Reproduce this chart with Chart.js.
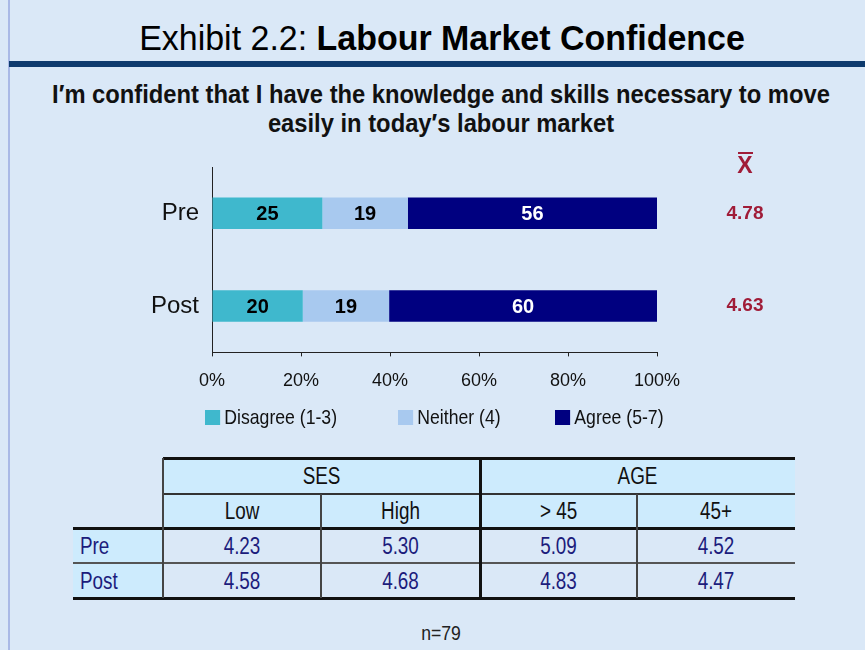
<!DOCTYPE html>
<html>
<head>
<meta charset="utf-8">
<script src="https://cdn.jsdelivr.net/npm/chart.js@4"></script>
<style>
  html, body { margin: 0; padding: 0; }
  body { width: 865px; height: 650px; overflow: hidden; }
  #slide {
    position: relative; width: 865px; height: 650px;
    background: #dae8f7;
    font-family: "Liberation Sans", Arial, sans-serif;
  }
  .abs { position: absolute; }
  #leftline { left: 8px; top: 0; width: 2px; height: 650px; background: #a9b9e6; }
  #rule { left: 9px; top: 61px; width: 856px; height: 6px; background: #0e3b6e; }
  #title { left: 0; width: 884px; top: 18px; text-align: center; font-size: 35px; color: #000; white-space: nowrap; transform: scaleX(0.97); }
  #subtitle { left: 0; width: 882px; top: 80px; text-align: center; font-size: 25px; font-weight: bold; line-height: 29px; color: #111; white-space: nowrap; transform: scaleX(0.95); }
  #chartbox { left: 140px; top: 145px; width: 660px; height: 261px; }
  #legend { left: 0; top: 405px; width: 865px; height: 26px; font-size: 21px; color: #111; }
  .lg { position: absolute; top: 0; white-space: nowrap; transform: scaleX(0.84); transform-origin: 0 50%; }
  .lg span.box { display: inline-block; width: 18px; height: 15px; margin-right: 5px; vertical-align: -1px; }
  .cell { position: absolute; text-align: center; font-size: 23px; line-height: 34px; white-space: nowrap; }
  .fill { position: absolute; background: #cdebfd; }
  .ln { position: absolute; background: #111; }
  #n { left: 0; width: 882px; top: 621px; text-align: center; font-size: 21px; color: #222; transform: scaleX(0.84); }
</style>
</head>
<body>
<div id="slide">
  <div class="abs" id="leftline"></div>
  <div class="abs" id="title">Exhibit 2.2: <b>Labour Market Confidence</b></div>
  <div class="abs" id="rule"></div>
  <div class="abs" id="subtitle">I′m confident that I have the knowledge and skills necessary to move<br>easily in today′s labour market</div>
  <div class="abs" id="chartbox"><canvas id="chart"></canvas></div>
  <div class="abs" id="legend"></div>
  <div class="abs" id="table"></div>
  <div class="abs" id="n">n=79</div>
</div>
<script>
// bar chart data (percent of respondents)
var periods = ['Pre', 'Post'];
var seriesNames = ['Disagree (1-3)', 'Neither (4)', 'Agree (5-7)'];
var disagree = [24.8, 20.4];
var neither = [19.2, 19.4];
var agree = [56.0, 60.2];
var means = ['4.78', '4.63'];
var xTicks = [0, 20, 40, 60, 80, 100];

// table data
var groupNames = ['SES', 'AGE'];
var subGroups = ['Low', 'High', '> 45', '45+'];
var tablePre = ['4.23', '5.30', '5.09', '4.52'];
var tablePost = ['4.58', '4.68', '4.83', '4.47'];

var colors = ['#3fb8cd', '#a8c9ef', '#000080'];
var labelColors = ['#000', '#000', '#fff'];
var SANS = '"Liberation Sans", Arial, sans-serif';

var barLabels = {
  id: 'barLabels',
  afterDatasetsDraw: function(chart) {
    var ctx = chart.ctx;
    ctx.save();
    ctx.textAlign = 'center';
    ctx.textBaseline = 'middle';
    ctx.font = 'bold 20px ' + SANS;
    chart.data.datasets.forEach(function(ds, di) {
      chart.getDatasetMeta(di).data.forEach(function(bar, i) {
        ctx.fillStyle = labelColors[di];
        ctx.fillText(Math.round(ds.data[i]), (bar.x + bar.base) / 2, bar.y + 1);
      });
    });
    // means column
    var yScale = chart.scales.y;
    var mx = chart.chartArea.right + 88;
    ctx.fillStyle = '#a01c38';
    ctx.font = 'bold 19px ' + SANS;
    means.forEach(function(m, i) {
      ctx.fillText(m, mx, yScale.getPixelForValue(i));
    });
    ctx.font = 'bold 23px ' + SANS;
    ctx.fillText('X', mx, 22);
    ctx.fillRect(mx - 7, 7, 15, 2);
    ctx.restore();
  }
};

new Chart(document.getElementById('chart'), {
  type: 'bar',
  data: {
    labels: periods,
    datasets: [
      { label: seriesNames[0], data: disagree, backgroundColor: colors[0] },
      { label: seriesNames[1], data: neither, backgroundColor: colors[1] },
      { label: seriesNames[2], data: agree, backgroundColor: colors[2] }
    ]
  },
  options: {
    indexAxis: 'y',
    responsive: true,
    maintainAspectRatio: false,
    animation: false,
    datasets: { bar: { categoryPercentage: 0.34, barPercentage: 1 } },
    layout: { padding: { top: 22, right: 143, left: 0, bottom: 0 } },
    plugins: { legend: { display: false }, tooltip: { enabled: false } },
    scales: {
      x: {
        stacked: true, min: 0, max: 100,
        afterBuildTicks: function(s) { s.ticks = xTicks.map(function(v) { return { value: v }; }); },
        ticks: { callback: function(v) { return v + '%'; }, color: '#111', font: { family: SANS, size: 18 }, padding: 14, maxRotation: 0 },
        grid: { drawOnChartArea: false, tickLength: 4, color: '#222' },
        border: { color: '#222', width: 1 }
      },
      y: {
        stacked: true,
        afterFit: function(s) { s.width = 72; },
        ticks: { color: '#111', font: { family: SANS, size: 24 }, padding: 5 },
        grid: { display: false },
        border: { color: '#222', width: 1 }
      }
    }
  },
  plugins: [barLabels]
});

// legend
var legendX = [205, 398, 555];
var lg = document.getElementById('legend');
seriesNames.forEach(function(name, i) {
  var d = document.createElement('div');
  d.className = 'lg';
  d.style.left = legendX[i] + 'px';
  d.innerHTML = '<span class="box" style="background:' + colors[i] + '"></span>' + name;
  lg.appendChild(d);
});

// table
var slide = document.getElementById('slide');
function add(cls, x, y, w, h, extra) {
  var d = document.createElement('div');
  d.className = cls;
  d.style.left = x + 'px'; d.style.top = y + 'px';
  d.style.width = w + 'px'; d.style.height = h + 'px';
  if (extra) for (var k in extra) d.style[k] = extra[k];
  slide.appendChild(d);
  return d;
}
function text(x, y, w, str, color, origin) {
  var d = add('cell', x, y, w, 34, { color: color, transform: 'scaleX(0.82)', transformOrigin: origin || '50% 50%' });
  if (origin) d.style.textAlign = 'left';
  d.textContent = str;
}
var colX = [163, 321, 480, 637, 795];
add('fill', 163, 458, 632, 70);
add('fill', 73, 528, 90, 70);
groupNames.forEach(function(g, i) {
  text(colX[i * 2], 459, colX[i * 2 + 2] - colX[i * 2], g, '#111');
});
subGroups.forEach(function(s, i) {
  text(colX[i], 494, colX[i + 1] - colX[i], s, '#111');
});
[tablePre, tablePost].forEach(function(row, r) {
  var y = 529 + r * 35;
  text(80, y, 80, periods[r], '#1c1c7c', '0 50%');
  row.forEach(function(v, i) {
    text(colX[i], y, colX[i + 1] - colX[i], v, '#1c1c7c');
  });
});
// rules
add('ln', 163, 457, 632, 3);
add('ln', 163, 493, 632, 1.5, { background: '#333' });
add('ln', 73, 527, 722, 3);
add('ln', 73, 562, 722, 1.5, { background: '#555' });
add('ln', 73, 597, 722, 3);
add('ln', 162, 458, 1.5, 140, { background: '#444' });
add('ln', 320, 494, 1.5, 104, { background: '#444' });
add('ln', 479, 458, 3, 140);
add('ln', 636, 494, 1.5, 104, { background: '#444' });
</script>
</body>
</html>
